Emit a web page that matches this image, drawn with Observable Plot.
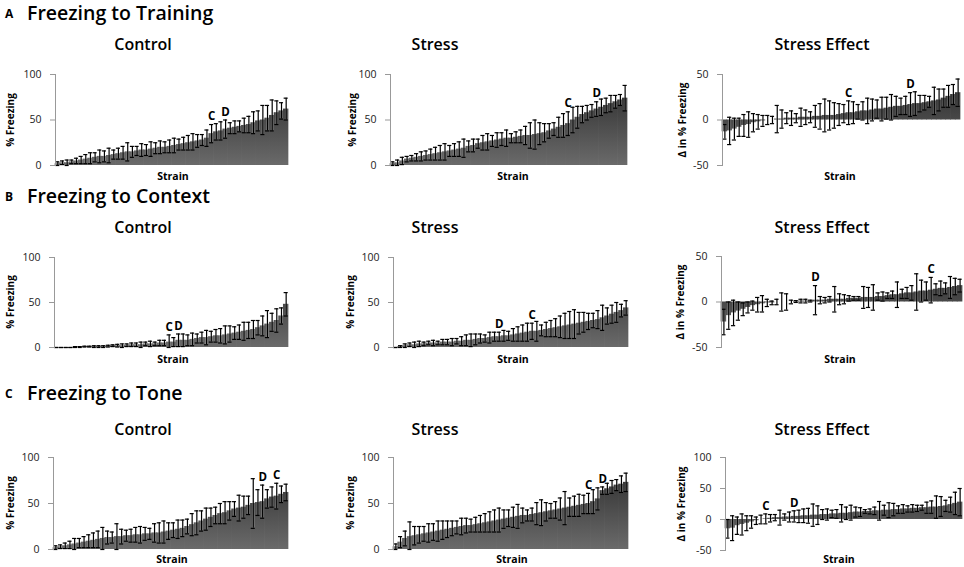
<!DOCTYPE html>
<html><head><meta charset="utf-8">
<script src="https://cdn.jsdelivr.net/npm/d3@7"></script>
<script src="https://cdn.jsdelivr.net/npm/@observablehq/plot@0.6"></script>
<style>
body{margin:0;background:#fff;}
#fig{position:relative;width:964px;height:567px;overflow:hidden;font-family:"Open Sans",sans-serif;color:#000;}
.t{position:absolute;white-space:nowrap;line-height:1.1;}
.hdr{font-size:19.5px;font-weight:600;transform:translateY(-50%);}
.let{font-size:12px;font-weight:700;transform:translateY(-50%);}
.ttl{font-size:16px;font-weight:600;transform:translate(-50%,-50%);}
.xl{font-size:10.5px;font-weight:700;transform:translate(-50%,-50%);}
.yl{font-size:10px;font-weight:700;transform:translate(-50%,-50%) rotate(-90deg);}
.pn{position:absolute;}
</style></head>
<body><div id="fig"></div>
<script>
// ---- data (strains sorted independently in each panel) ----
const nStrains = 50;
const rows = ["Freezing to Training", "Freezing to Context", "Freezing to Tone"];
const rowLetters = ["A", "B", "C"];
const panelTitles = ["Control", "Stress", "Stress Effect"];
const yLabels = ["% Freezing", "% Freezing", "Δ in % Freezing"];
const xLabel = "Strain";
const pctTicks = [0, 50, 100];
const effTicks = [-50, 0, 50];
const effTicksTone = [-50, 0, 50, 100];

const trainCtrlMean = [2,3,3,4,5,6,7,8,9,10, 10,11,12,13,14,15,15,16,17,17, 18,19,20,20,21,22,23,24,25,26, 27,28,30,35,37,38,40,41,42,43, 44,45,47,49,50,52,55,58,60,62];
const trainCtrlErr  = [2,2,3,2,3,4,5,6,5,7, 6,8,5,6,7,10,6,5,7,6, 8,6,7,6,7,8,6,7,8,9, 7,6,9,10,9,10,10,6,7,6, 8,9,12,11,16,14,17,13,9,12];
const trainStrMean  = [2,3,5,7,8,9,10,11,12,13, 14,15,16,17,18,19,21,22,24,25, 26,27,28,29,30,30,31,32,33,33, 34,35,36,38,40,42,44,46,50,53, 56,58,60,62,64,66,68,70,72,74];
const trainStrErr   = [2,3,4,3,3,4,5,5,6,7, 8,9,6,7,8,10,6,7,5,8, 9,6,8,7,9,5,6,7,10,14, 16,12,10,8,7,11,13,13,14,12, 9,8,7,8,9,8,9,7,6,14];
const trainEffMean  = [-13,-12,-10,-8,-6,-5,-3,-2,-1,0, 0,1,1,2,2,2,3,3,3,4, 4,5,5,5,6,7,8,8,9,10, 10,11,12,12,13,14,15,15,16,17, 18,18,19,20,21,22,24,26,28,30];
const trainEffErr   = [8,15,12,10,12,14,10,8,6,5, 4,15,10,6,8,5,10,8,6,12, 14,18,16,14,12,10,13,12,8,10, 14,12,10,13,12,14,11,9,10,13, 13,9,8,6,15,12,10,12,11,15];

const ctxCtrlMean = [0,0,0,0,0.5,0.5,1,1,1,1, 1,1.5,2,2,2,2.5,3,3,3,4, 4,4,5,5,6,6,8,8,8,9, 10,11,11,12,13,13,14,15,16,17, 18,19,20,22,24,26,28,30,35,48];
const ctxCtrlErr  = [0,0,0,0,0.5,0.5,0.5,0.5,1,1, 1,1,1,1.5,2,1.5,2,2,3,2, 3,2,3,3,8,5,7,7,6,7, 5,6,8,6,7,8,10,9,7,8, 10,9,10,8,11,15,10,13,9,13];
const ctxStrMean  = [0,1,2,3,3,4,4,5,5,5, 6,6,6,7,7,8,8,9,10,10, 11,12,12,13,13,14,15,16,17,18, 18,19,20,21,22,23,24,25,26,27, 28,29,30,31,33,35,37,39,41,44];
const ctxStrErr   = [0,1,2,2,3,3,2,2,3,2, 3,3,4,3,5,6,7,6,5,4, 6,5,5,6,5,7,8,9,10,9, 11,6,8,9,10,12,14,15,16,12, 11,9,8,10,14,9,10,11,7,8];
const ctxEffMean  = [-22,-15,-12,-10,-8,-6,-4,-3,-2,-1, -1,0,0,0,0,0.5,1,1,1,2, 2,2,3,3,3,3,4,4,4,5, 5,5,6,6,7,8,8,9,10,10, 11,12,12,13,14,15,15,16,17,18];
const ctxEffErr   = [14,15,14,10,7,6,5,8,9,4, 2,3,10,9,2,1,2,2,1,16, 4,3,3,14,6,5,3,2,2,12, 11,14,4,5,3,4,14,5,6,8, 20,12,10,14,6,8,6,12,9,7];

const toneCtrlMean = [2,3,4,5,6,7,8,9,10,11, 12,13,13,14,14,15,15,16,16,17, 17,18,18,19,20,21,22,23,25,27, 29,31,33,35,37,39,40,42,44,45, 46,48,50,51,52,55,57,58,60,62];
const toneCtrlErr  = [2,2,3,4,6,5,6,7,8,9, 12,7,6,14,8,6,7,8,9,7, 6,10,11,12,9,8,10,9,8,12, 13,11,12,10,9,11,12,10,8,14, 12,10,27,14,18,10,11,14,9,9];
const toneStrMean  = [3,8,12,14,15,16,17,18,19,20, 21,22,23,24,25,26,26,27,28,29, 30,31,32,33,34,35,36,37,37,38, 39,40,41,42,43,44,45,46,47,48, 49,50,52,55,64,66,68,70,71,73];
const toneStrErr   = [3,6,8,16,10,9,8,10,9,11, 10,9,8,7,9,8,7,8,9,10, 11,12,13,10,9,11,13,8,6,7, 12,14,10,8,9,12,18,10,11,12, 10,11,13,12,4,6,7,6,9,10];
const toneEffMean  = [-15,-14,-10,-8,-6,-4,-2,0,1,2, 3,3,4,4,5,5,6,6,7,7, 8,8,9,9,10,10,11,12,12,13, 13,14,14,15,15,16,16,17,17,18, 18,19,19,20,20,21,22,24,26,28];
const toneEffErr   = [15,20,14,17,12,10,6,7,8,6, 5,12,5,8,9,10,11,12,18,15, 8,9,6,7,14,10,12,8,7,3, 4,6,15,8,12,10,6,7,5,6, 5,4,9,10,18,16,9,12,18,22];

// strain markers C and D: [label, rank index]
const markTrainCtrl = [["C",33],["D",36]];
const markTrainStr  = [["C",37],["D",43]];
const markTrainEff  = [["C",26],["D",39]];
const markCtxCtrl   = [["C",24],["D",26]];
const markCtxStr    = [["D",22],["C",29]];
const markCtxEff    = [["D",19],["C",43]];
const markToneCtrl  = [["D",44],["C",47]];
const markToneStr   = [["C",41],["D",44]];
const markToneEff   = [["C",8],["D",14]];

// ---- layout ----
const fig = document.getElementById("fig");
function txt(cls, s, x, y){
  const d = document.createElement("div");
  d.className = "t " + cls; d.textContent = s;
  d.style.left = x + "px"; d.style.top = y + "px";
  fig.appendChild(d);
}

const panels = [
  {row:0,col:0,axis:55,right:288,yTop:74,yBot:165,domain:[0,100],ticks:pctTicks,means:trainCtrlMean,err:trainCtrlErr,marks:markTrainCtrl,ylx:10,xlx:173,xly:177},
  {row:0,col:1,axis:390,right:627,yTop:74,yBot:165,domain:[0,100],ticks:pctTicks,means:trainStrMean,err:trainStrErr,marks:markTrainStr,ylx:352,xlx:513,xly:177},
  {row:0,col:2,axis:722,right:960,yTop:74,yBot:165,domain:[-50,50],ticks:effTicks,means:trainEffMean,err:trainEffErr,marks:markTrainEff,ylx:682,xlx:840,xly:177},
  {row:1,col:0,axis:54,right:288,yTop:257,yBot:347,domain:[0,100],ticks:pctTicks,means:ctxCtrlMean,err:ctxCtrlErr,marks:markCtxCtrl,ylx:10,xlx:173,xly:360},
  {row:1,col:1,axis:393,right:628,yTop:257,yBot:347,domain:[0,100],ticks:pctTicks,means:ctxStrMean,err:ctxStrErr,marks:markCtxStr,ylx:350,xlx:513,xly:360},
  {row:1,col:2,axis:721,right:962,yTop:256,yBot:347,domain:[-50,50],ticks:effTicks,means:ctxEffMean,err:ctxEffErr,marks:markCtxEff,ylx:680,xlx:840,xly:360},
  {row:2,col:0,axis:53,right:288,yTop:457,yBot:549,domain:[0,100],ticks:pctTicks,means:toneCtrlMean,err:toneCtrlErr,marks:markToneCtrl,ylx:10,xlx:172,xly:560},
  {row:2,col:1,axis:393,right:628,yTop:457,yBot:549,domain:[0,100],ticks:pctTicks,means:toneStrMean,err:toneStrErr,marks:markToneStr,ylx:350,xlx:512,xly:560},
  {row:2,col:2,axis:725,right:962,yTop:457,yBot:550,domain:[-50,100],ticks:effTicksTone,means:toneEffMean,err:toneEffErr,marks:markToneEff,ylx:681,xlx:839,xly:560}
];
const headerY = [13, 196, 393];
const titleY = [45, 228, 430];
const titleX = [143, 435, 822];

rows.forEach((r,i)=>{
  txt("let", rowLetters[i], 5, headerY[i]+1);
  txt("hdr", r, 27, headerY[i]);
  panelTitles.forEach((t,j)=> txt("ttl", t, titleX[j], titleY[i]));
});

panels.forEach((c,k)=>{
  const ml = 45, mr = 2, mt = 12, mb = 6;
  const plotH = c.yBot - c.yTop;
  const W = c.right - c.axis + ml + mr;
  const H = plotH + mt + mb;
  const data = c.means.map((m,i)=>({i, m, lo: Math.max(c.domain[0], m - c.err[i]), hi: m + c.err[i]}));
  const lab = c.marks.map(([t,idx])=>({t, i: idx, hi: data[idx].hi}));
  const p = Plot.plot({
    width: W, height: H, marginLeft: ml, marginRight: mr, marginTop: mt, marginBottom: mb,
    style: {fontFamily: "Open Sans, sans-serif", fontSize: "10.5px", background: "transparent", overflow: "visible"},
    x: {type: "band", domain: d3.range(nStrains), padding: 0, axis: null},
    y: {domain: c.domain},
    marks: [
      Plot.barY(data, {x: "i", y: "m", fill: "#444", insetLeft: -0.35, insetRight: -0.35}),
      Plot.ruleX(data, {x: "i", y1: "lo", y2: "hi", stroke: "white", strokeWidth: 2.4, strokeOpacity: 0.3}),
      Plot.ruleX(data, {x: "i", y1: "lo", y2: "hi", stroke: "black", strokeWidth: 1.2}),
      Plot.tickY(data, {x: "i", y: "hi", stroke: "black", strokeWidth: 1.2, insetLeft: 0.3, insetRight: 0.3}),
      Plot.tickY(data, {x: "i", y: "lo", stroke: "black", strokeWidth: 1.2, insetLeft: 0.3, insetRight: 0.3}),
      Plot.text(lab, {x: "i", y: "hi", text: "t", dy: -8, fontWeight: "bold", fontSize: 11.5, fill: "black"}),
      Plot.frame({anchor: "left", stroke: "#999"}),
      Plot.axisY({ticks: c.ticks, tickSize: 5, tickPadding: 9, label: null, stroke: "#999", fill: "#222", tickFormat: d => String(d)})
    ]
  });
  const svg = d3.select(p);
  const id = "grad" + k;
  const g = svg.insert("defs", ":first-child").append("linearGradient")
    .attr("id", id).attr("gradientUnits", "userSpaceOnUse")
    .attr("x1", 0).attr("x2", 0).attr("y1", mt).attr("y2", mt + plotH);
  g.append("stop").attr("offset", "0%").attr("stop-color", "#262626");
  g.append("stop").attr("offset", "100%").attr("stop-color", "#6a6a6a");
  svg.selectAll('g[aria-label="bar"] rect').attr("fill", `url(#${id})`);
  const wrap = document.createElement("div");
  wrap.className = "pn";
  wrap.style.left = (c.axis - ml) + "px";
  wrap.style.top = (c.yTop - mt) + "px";
  wrap.appendChild(p);
  fig.appendChild(wrap);
  txt("yl", yLabels[c.col], c.ylx, (c.yTop + c.yBot) / 2);
  txt("xl", xLabel, c.xlx, c.xly);
});
</script>
</body></html>
